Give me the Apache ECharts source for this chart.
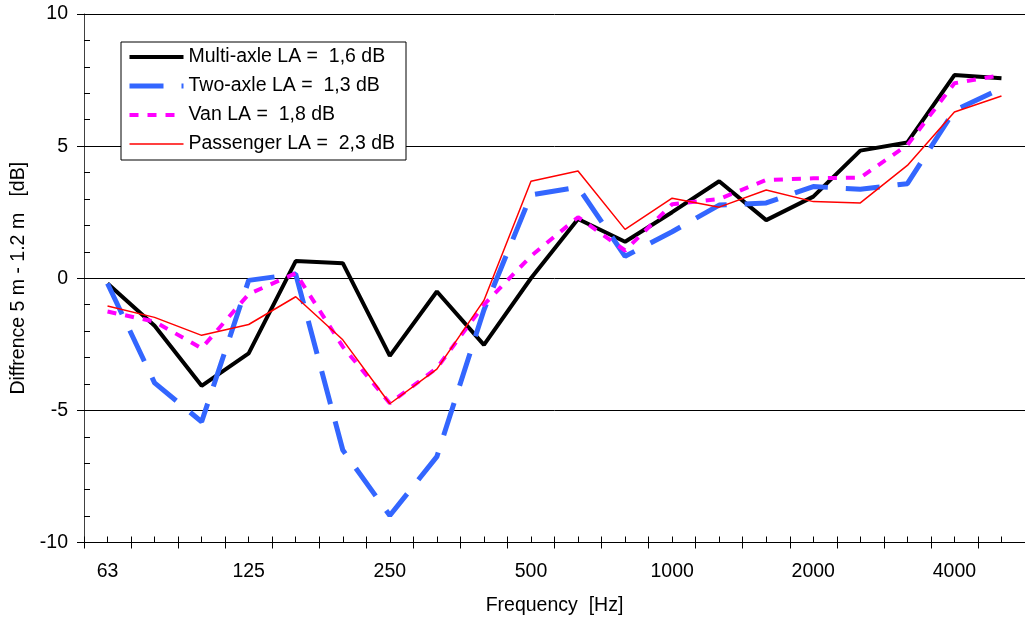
<!DOCTYPE html>
<html>
<head>
<meta charset="utf-8">
<title>Diffrence 5 m - 1.2 m</title>
<script src="https://cdn.jsdelivr.net/npm/echarts@6/dist/echarts.min.js"></script>
<style>
  html, body { margin: 0; padding: 0; background: #fff; }
  #chart { width: 1025px; height: 621px; }
</style>
</head>
<body>
<div id="chart"></div>
<script>
// Third-octave band centre frequencies [Hz]
const bands = ['63', '80', '100', '125', '160', '200', '250', '315', '400', '500',
               '630', '800', '1000', '1250', '1600', '2000', '2500', '3150', '4000', '5000'];

// Level difference between 5 m and 1.2 m microphone heights [dB]
const multiAxle = [-0.2, -1.8, -4.07, -2.84, 0.65, 0.57, -2.94, -0.5, -2.52, 0.0,
                   2.24, 1.38, 2.5, 3.67, 2.2, 3.09, 4.83, 5.14, 7.69, 7.57];
const twoAxle   = [-0.2, -3.96, -5.43, -0.08, 0.16, -6.5, -8.98, -6.75, -1.2, 3.15,
                   3.45, 0.83, 1.76, 2.77, 2.85, 3.47, 3.37, 3.58, 6.35, 7.19];
const van       = [-1.26, -1.64, -2.65, -0.6, 0.19, -2.59, -4.73, -3.4, -1.0, 0.84,
                   2.31, 1.05, 2.8, 3.0, 3.72, 3.78, 3.81, 5.04, 7.38, 7.69];
const passenger = [-1.05, -1.48, -2.16, -1.75, -0.7, -2.33, -4.75, -3.44, -0.84, 3.67,
                   4.06, 1.85, 3.03, 2.69, 3.34, 2.9, 2.85, 4.27, 6.29, 6.9];

const seriesNames = [
  'Multi-axle LA =  1,6 dB',
  'Two-axle LA =  1,3 dB',
  'Van LA =  1,8 dB',
  'Passenger LA =  2,3 dB'
];

const FONT = "'Liberation Sans', Arial, sans-serif";
const FS = 19.5;

const chart = echarts.init(document.getElementById('chart'), null, { renderer: 'canvas' });

const hiddenCat = (extra) => Object.assign({
  type: 'category',
  data: bands,
  boundaryGap: true,
  position: 'bottom',
  axisLine: { show: false, onZero: false },
  axisLabel: { show: false },
  splitLine: { show: false }
}, extra);

chart.setOption({
  animation: false,
  backgroundColor: '#fff',
  textStyle: { fontFamily: FONT },
  grid: { left: 84, top: 14, width: 948, height: 528.5, containLabel: false },
  legend: {
    orient: 'vertical',
    left: 121,
    top: 42,
    itemWidth: 54,
    itemHeight: 14,
    itemGap: 9,
    padding: [5, 11, 6, 6],
    borderColor: '#000',
    borderWidth: 1,
    borderRadius: 0,
    backgroundColor: '#fff',
    // line samples only, drawn with the series' own line width
    itemStyle: { opacity: 0 },
    lineStyle: { width: 'inherit' },
    textStyle: { fontSize: FS, color: '#000', fontFamily: FONT },
    data: seriesNames
  },
  xAxis: [
    {
      type: 'category',
      data: bands,
      boundaryGap: true,
      position: 'bottom',
      name: 'Frequency  [Hz]',
      nameLocation: 'middle',
      nameGap: 53,
      nameTextStyle: { fontSize: FS, color: '#000', fontFamily: FONT },
      axisLine: { show: true, onZero: false, lineStyle: { color: '#000', width: 1 } },
      axisTick: { show: true, inside: true, length: 6, interval: 0, lineStyle: { color: '#000' } },
      axisLabel: { interval: 2, margin: 19, fontSize: FS, color: '#000', fontFamily: FONT },
      splitLine: { show: false }
    },
    // band boundary ticks below the axis
    hiddenCat({ axisTick: { show: true, inside: false, length: 6, interval: 0, lineStyle: { color: '#000' } } }),
    // band centre ticks above the axis
    hiddenCat({ axisTick: { show: true, inside: true, length: 6, interval: 0, alignWithLabel: true, lineStyle: { color: '#000' } } })
  ],
  yAxis: [
    {
      type: 'value',
      min: -10,
      max: 10,
      interval: 5,
      position: 'left',
      name: 'Diffrence 5 m - 1.2 m   [dB]',
      nameLocation: 'middle',
      nameGap: 51,
      nameTextStyle: { fontSize: FS, color: '#000', fontFamily: FONT },
      axisLine: { show: true, onZero: false, lineStyle: { color: '#404040', width: 1 } },
      axisTick: { show: true, inside: false, length: 7, lineStyle: { color: '#000' } },
      axisLabel: { margin: 16, fontSize: FS, color: '#000', fontFamily: FONT },
      splitLine: { show: true, lineStyle: { color: '#000', width: 1 } }
    },
    {
      // 1 dB minor ticks inside the plot
      type: 'value',
      min: -10,
      max: 10,
      interval: 5,
      position: 'left',
      axisLine: { show: false, onZero: false },
      axisTick: { show: true, inside: true, length: 6, lineStyle: { color: '#000' } },
      minorTick: { show: true, splitNumber: 5, length: 6, lineStyle: { color: '#000' } },
      axisLabel: { show: false },
      splitLine: { show: false }
    }
  ],
  series: [
    {
      name: seriesNames[0], type: 'line', data: multiAxle,
      symbol: 'none', smooth: false,
      lineStyle: { color: '#000000', width: 4, type: 'solid' },
      itemStyle: { color: '#000000' }
    },
    {
      name: seriesNames[1], type: 'line', data: twoAxle,
      symbol: 'none', smooth: false,
      lineStyle: { color: '#3366FF', width: 5, type: [34, 18], cap: 'butt' },
      itemStyle: { color: '#3366FF' }
    },
    {
      name: seriesNames[2], type: 'line', data: van,
      symbol: 'none', smooth: false,
      lineStyle: { color: '#FF00FF', width: 4, type: [9, 9], cap: 'butt' },
      itemStyle: { color: '#FF00FF' }
    },
    {
      name: seriesNames[3], type: 'line', data: passenger,
      symbol: 'none', smooth: false,
      lineStyle: { color: '#FF0000', width: 1.5, type: 'solid' },
      itemStyle: { color: '#FF0000' }
    }
  ]
});
</script>
</body>
</html>
